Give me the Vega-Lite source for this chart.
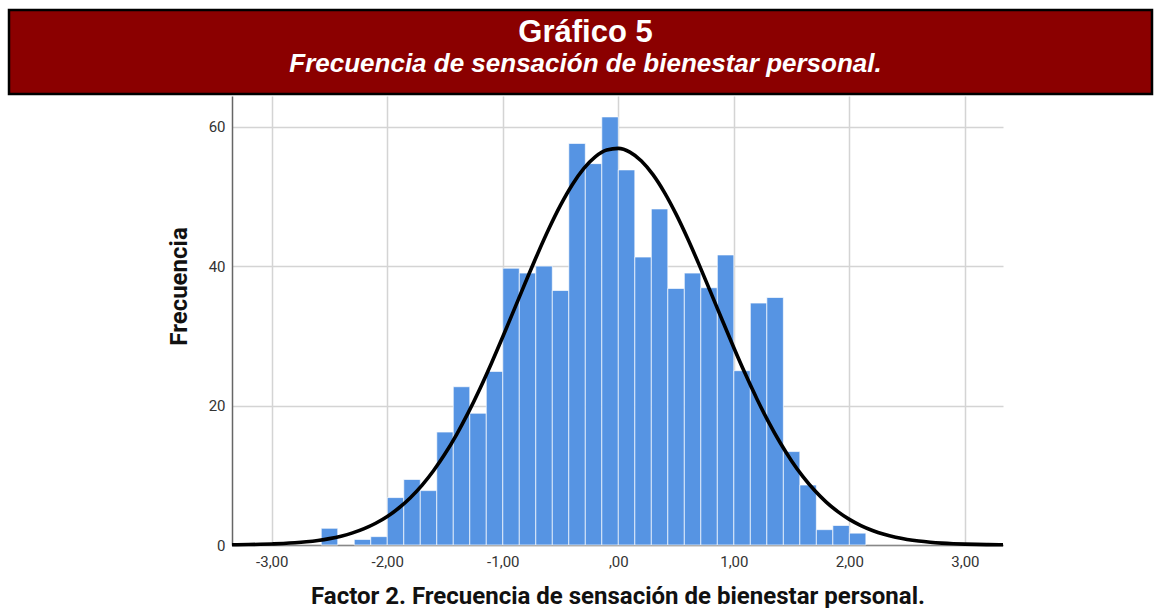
{
  "$schema": "https://vega.github.io/schema/vega-lite/v6.json",
  "padding": {"left": 7, "top": 8, "right": 0, "bottom": 0},
  "background": "white",
  "spacing": 0,
  "config": {"view": {"stroke": null}, "concat": {"spacing": 0}},
  "vconcat": [
    {
      "width": 1143,
      "height": 84,
      "view": {"fill": "#8B0000", "stroke": "#000000", "strokeWidth": 2.5},
      "data": {"values": [
        {"line": "Gráfico 5", "kind": "title"},
        {"line": "Frecuencia de sensación de bienestar personal.", "kind": "subtitle"}
      ]},
      "layer": [
        {
          "transform": [{"filter": "datum.kind == 'title'"}],
          "mark": {"type": "text", "font": "Liberation Sans", "fontSize": 31, "fontWeight": "bold", "color": "#ffffff", "baseline": "alphabetic", "dx": 5},
          "encoding": {
            "y": {"field": "kind", "type": "nominal", "scale": {"type": "point", "padding": 0, "domain": ["title", "subtitle"], "range": [32, 61.5]}, "axis": null},
            "text": {"field": "line"}
          }
        },
        {
          "transform": [{"filter": "datum.kind == 'subtitle'"}],
          "mark": {"type": "text", "font": "Liberation Sans", "fontSize": 26, "fontWeight": "bold", "fontStyle": "italic", "color": "#ffffff", "baseline": "alphabetic", "dx": 5},
          "encoding": {
            "y": {"field": "kind", "type": "nominal", "scale": {"type": "point", "padding": 0, "domain": ["title", "subtitle"], "range": [32, 61.5]}, "axis": null},
            "text": {"field": "line"}
          }
        }
      ]
    },
    {
      "spacing": 0,
      "hconcat": [
        {
          "width": 158,
          "height": 10,
          "data": {"values": []},
          "mark": "point"
        },
        {
          "width": 771,
          "height": 449,
          "layer": [
            {
              "data": {"values": [
                {"bin_start": -2.5714, "bin_end": -2.4286, "count": 2.4},
                {"bin_start": -2.2857, "bin_end": -2.1429, "count": 0.8},
                {"bin_start": -2.1429, "bin_end": -2.0, "count": 1.2},
                {"bin_start": -2.0, "bin_end": -1.8571, "count": 6.8},
                {"bin_start": -1.8571, "bin_end": -1.7143, "count": 9.4},
                {"bin_start": -1.7143, "bin_end": -1.5714, "count": 7.8},
                {"bin_start": -1.5714, "bin_end": -1.4286, "count": 16.2},
                {"bin_start": -1.4286, "bin_end": -1.2857, "count": 22.7},
                {"bin_start": -1.2857, "bin_end": -1.1429, "count": 18.9},
                {"bin_start": -1.1429, "bin_end": -1.0, "count": 24.9},
                {"bin_start": -1.0, "bin_end": -0.8571, "count": 39.7},
                {"bin_start": -0.8571, "bin_end": -0.7143, "count": 39.0},
                {"bin_start": -0.7143, "bin_end": -0.5714, "count": 40.0},
                {"bin_start": -0.5714, "bin_end": -0.4286, "count": 36.5},
                {"bin_start": -0.4286, "bin_end": -0.2857, "count": 57.6},
                {"bin_start": -0.2857, "bin_end": -0.1429, "count": 54.7},
                {"bin_start": -0.1429, "bin_end": 0.0, "count": 61.4},
                {"bin_start": 0.0, "bin_end": 0.1429, "count": 53.8},
                {"bin_start": 0.1429, "bin_end": 0.2857, "count": 41.3},
                {"bin_start": 0.2857, "bin_end": 0.4286, "count": 48.2},
                {"bin_start": 0.4286, "bin_end": 0.5714, "count": 36.8},
                {"bin_start": 0.5714, "bin_end": 0.7143, "count": 39.0},
                {"bin_start": 0.7143, "bin_end": 0.8571, "count": 36.9},
                {"bin_start": 0.8571, "bin_end": 1.0, "count": 41.6},
                {"bin_start": 1.0, "bin_end": 1.1429, "count": 25.0},
                {"bin_start": 1.1429, "bin_end": 1.2857, "count": 34.7},
                {"bin_start": 1.2857, "bin_end": 1.4286, "count": 35.5},
                {"bin_start": 1.4286, "bin_end": 1.5714, "count": 13.4},
                {"bin_start": 1.5714, "bin_end": 1.7143, "count": 8.6},
                {"bin_start": 1.7143, "bin_end": 1.8571, "count": 2.2},
                {"bin_start": 1.8571, "bin_end": 2.0, "count": 2.8},
                {"bin_start": 2.0, "bin_end": 2.1429, "count": 1.7}
              ]},
              "mark": {"type": "rect", "color": "#5694E3", "stroke": "#ffffff", "strokeWidth": 0.8, "strokeOpacity": 0.85},
              "encoding": {
                "x": {
                  "field": "bin_start", "type": "quantitative",
                  "scale": {"domain": [-3.344, 3.33], "nice": false, "zero": false},
                  "axis": {
                    "title": "Factor 2. Frecuencia de sensación de bienestar personal.",
                    "values": [-3, -2, -1, 0, 1, 2, 3],
                    "labelExpr": "datum.value == 0 ? ',00' : replace(replace(format(datum.value, '.2f'), '.', ','), '\u2212', '-')",
                    "grid": true, "gridColor": "#d4d4d4", "gridWidth": 1.5,
                    "ticks": false,
                    "domainColor": "#888888", "domainWidth": 1.5,
                    "labelFont": "Roboto", "labelFontSize": 15, "labelColor": "#333333", "labelPadding": 9,
                    "titleFont": "Roboto", "titleFontSize": 24, "titleFontWeight": "bold", "titleColor": "#111111", "titlePadding": 15
                  }
                },
                "x2": {"field": "bin_end"},
                "y": {
                  "field": "count", "type": "quantitative",
                  "scale": {"domain": [0, 64.4], "nice": false},
                  "axis": {
                    "title": "Frecuencia",
                    "values": [0, 20, 40, 60],
                    "grid": true, "gridColor": "#d4d4d4", "gridWidth": 1.5,
                    "ticks": false,
                    "domainColor": "#666666", "domainWidth": 1.5,
                    "labelFont": "Roboto", "labelFontSize": 15, "labelColor": "#333333", "labelPadding": 7,
                    "titleFont": "Roboto", "titleFontSize": 24, "titleFontWeight": "bold", "titleColor": "#111111",
                    "titleX": -41, "titleY": 190
                  }
                },
                "y2": {"datum": 0}
              }
            },
            {
              "data": {"values": [
                {"x": -3.344, "y": 0.034}, {"x": -3.3, "y": 0.042}, {"x": -3.2, "y": 0.064}, {"x": -3.1, "y": 0.098},
                {"x": -3.0, "y": 0.147}, {"x": -2.9, "y": 0.217}, {"x": -2.8, "y": 0.318}, {"x": -2.7, "y": 0.458},
                {"x": -2.6, "y": 0.652}, {"x": -2.5, "y": 0.917}, {"x": -2.4, "y": 1.27}, {"x": -2.3, "y": 1.736},
                {"x": -2.2, "y": 2.342}, {"x": -2.1, "y": 3.118}, {"x": -2.0, "y": 4.093}, {"x": -1.9, "y": 5.304},
                {"x": -1.8, "y": 6.782}, {"x": -1.7, "y": 8.554}, {"x": -1.6, "y": 10.649}, {"x": -1.5, "y": 13.076},
                {"x": -1.4, "y": 15.843}, {"x": -1.3, "y": 18.942}, {"x": -1.2, "y": 22.345}, {"x": -1.1, "y": 26.005},
                {"x": -1.0, "y": 29.863}, {"x": -0.9, "y": 33.833}, {"x": -0.8, "y": 37.821}, {"x": -0.7, "y": 41.716},
                {"x": -0.6, "y": 45.398}, {"x": -0.5, "y": 48.745}, {"x": -0.4, "y": 51.643}, {"x": -0.3, "y": 53.983},
                {"x": -0.2, "y": 55.676}, {"x": -0.1, "y": 56.656}, {"x": 0.0, "y": 56.885}, {"x": 0.1, "y": 56.353},
                {"x": 0.2, "y": 55.081}, {"x": 0.3, "y": 53.12}, {"x": 0.4, "y": 50.545}, {"x": 0.5, "y": 47.454},
                {"x": 0.6, "y": 43.959}, {"x": 0.7, "y": 40.177}, {"x": 0.8, "y": 36.23}, {"x": 0.9, "y": 32.236},
                {"x": 1.0, "y": 28.3}, {"x": 1.1, "y": 24.513}, {"x": 1.2, "y": 20.95}, {"x": 1.3, "y": 17.665},
                {"x": 1.4, "y": 14.698}, {"x": 1.5, "y": 12.065}, {"x": 1.6, "y": 9.771}, {"x": 1.7, "y": 7.81},
                {"x": 1.8, "y": 6.157}, {"x": 1.9, "y": 4.79}, {"x": 2.0, "y": 3.677}, {"x": 2.1, "y": 2.785},
                {"x": 2.2, "y": 2.081}, {"x": 2.3, "y": 1.534}, {"x": 2.4, "y": 1.116}, {"x": 2.5, "y": 0.801},
                {"x": 2.6, "y": 0.567}, {"x": 2.7, "y": 0.396}, {"x": 2.8, "y": 0.273}, {"x": 2.9, "y": 0.186},
                {"x": 3.0, "y": 0.125}, {"x": 3.1, "y": 0.083}, {"x": 3.2, "y": 0.054}, {"x": 3.3, "y": 0.035},
                {"x": 3.33, "y": 0.03}
              ]},
              "mark": {"type": "line", "color": "#000000", "strokeWidth": 3.6, "interpolate": "monotone"},
              "encoding": {
                "x": {"field": "x", "type": "quantitative"},
                "y": {"field": "y", "type": "quantitative"}
              }
            }
          ]
        }
      ]
    }
  ]
}
